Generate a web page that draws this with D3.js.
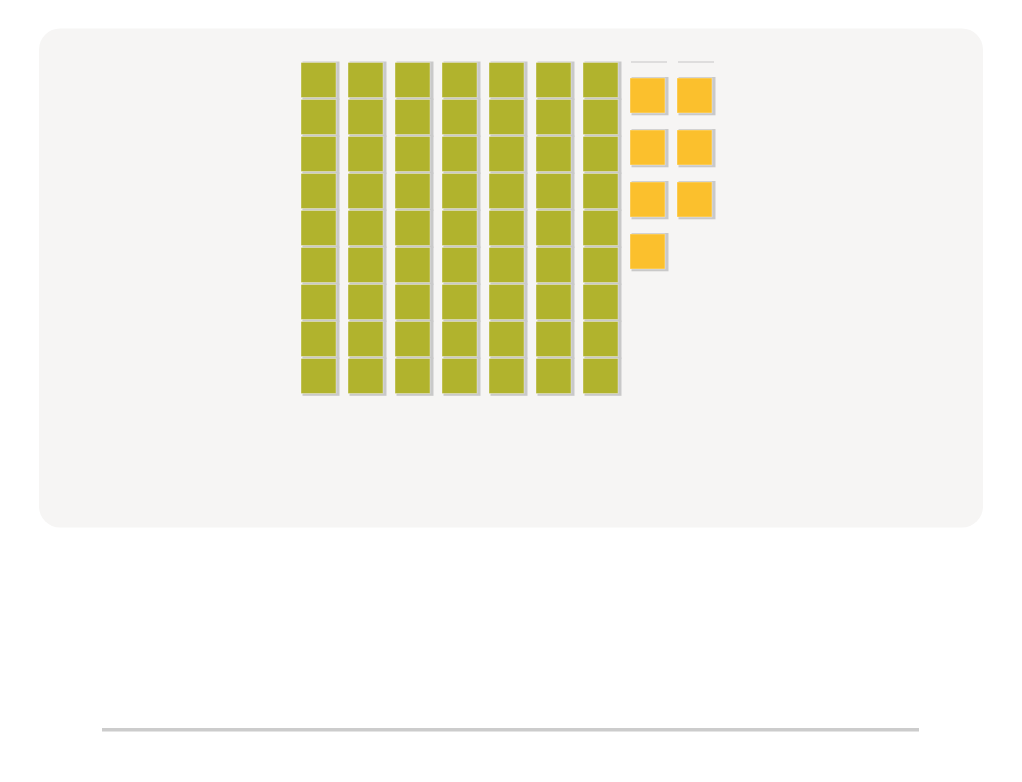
<!DOCTYPE html>
<html>
<head>
<style>
    body {
        margin: 0;
        background: #ffffff;
    }
    svg {
        display: block;
    }
</style>
</head>
<body>
<svg width="1022" height="782" id="chart"></svg>
<script src="https://cdn.jsdelivr.net/npm/d3@7"></script>
<script>
    // two groups of units, one square per unit
    let categories = ["Group A", "Group B"];
    let unitCounts = [63, 7];
    let unitsPerColumn = [9, 4];
    let groupColors = ["#b1b32d", "#fbc02d"];

    let svg = d3.select("#chart");

    // card background
    svg.append("rect")
        .attr("x", 39)
        .attr("y", 28.5)
        .attr("width", 944)
        .attr("height", 499)
        .attr("rx", 21)
        .attr("fill", "#f6f5f4");

    // build the unit list, column by column
    let units = [];
    let colOffset = 0;
    let groupCols = [];
    categories.forEach(function (cat, g) {
        let nCols = Math.ceil(unitCounts[g] / unitsPerColumn[g]);
        groupCols.push(d3.range(colOffset, colOffset + nCols));
        for (let i = 0; i < unitCounts[g]; i++) {
            units.push({
                group: g,
                col: colOffset + Math.floor(i / unitsPerColumn[g]),
                row: i % unitsPerColumn[g]
            });
        }
        colOffset += nCols;
    });

    let x = d3.scaleBand()
        .domain(d3.range(colOffset))
        .range([301, 301 + 47 * colOffset - 12])
        .paddingInner(12 / 47)
        .paddingOuter(0);

    let size = x.bandwidth();

    let yScales = [
        d3.scaleLinear().domain([0, unitsPerColumn[0] - 1]).range([62.5, 62.5 + 37 * (unitsPerColumn[0] - 1)]),
        d3.scaleLinear().domain([0, unitsPerColumn[1] - 1]).range([78, 78 + 52 * (unitsPerColumn[1] - 1)])
    ];

    // thin baseline at the top of the second group's columns
    svg.append("g")
        .selectAll("line")
        .data(groupCols[1])
        .enter().append("line")
        .attr("x1", function (d) { return x(d) + 1; })
        .attr("x2", function (d) { return x(d) + size + 2; })
        .attr("y1", 62)
        .attr("y2", 62)
        .attr("stroke", "#c6c6c6")
        .attr("stroke-width", 1.2);

    let cell = svg.append("g")
        .selectAll("g")
        .data(units)
        .enter().append("g")
        .attr("transform", function (d) {
            return "translate(" + x(d.col) + "," + yScales[d.group](d.row) + ")";
        });

    // shadow
    cell.append("rect")
        .attr("x", 1.5)
        .attr("y", -1)
        .attr("width", size + 2)
        .attr("height", size + 3.3)
        .attr("fill", "#c9c9c9");

    cell.append("rect")
        .attr("x", 0)
        .attr("y", 0)
        .attr("width", size)
        .attr("height", size)
        .attr("fill", function (d) { return groupColors[d.group]; })
        .attr("stroke", "rgba(255,255,255,0.45)")
        .attr("stroke-width", 0.8);

    // divider line near the bottom
    svg.append("rect")
        .attr("x", 102)
        .attr("y", 728)
        .attr("width", 817)
        .attr("height", 3.5)
        .attr("fill", "#cccccc");
</script>
</body>
</html>
